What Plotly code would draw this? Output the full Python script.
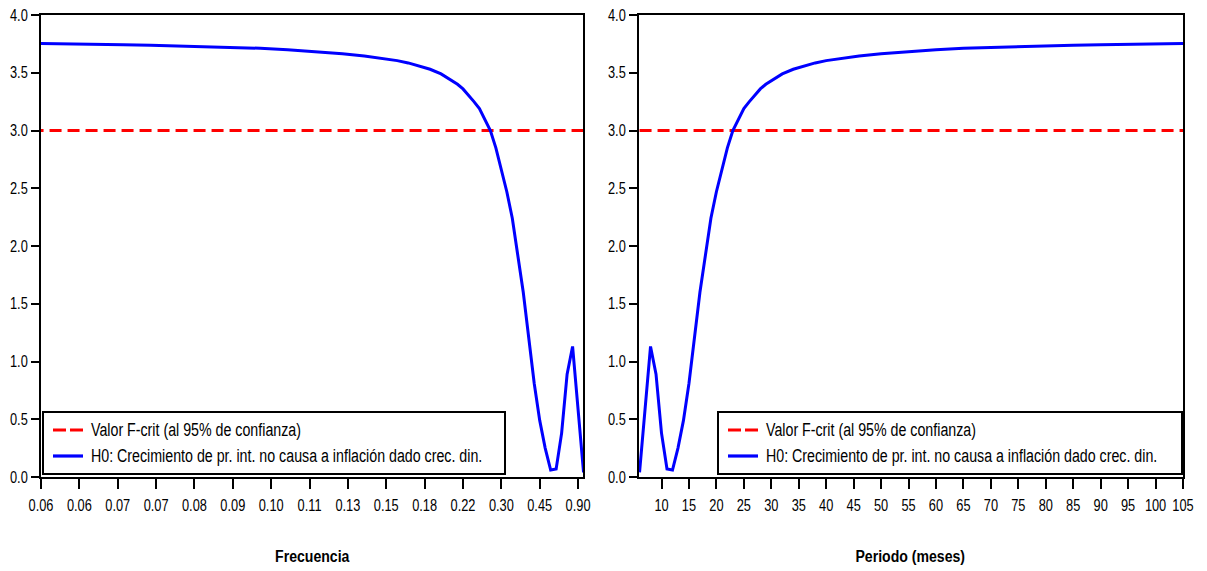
import plotly.graph_objects as go

# Period (months) and F statistic of the frequency-domain causality test
periodo = [6, 7, 8, 9, 10, 11, 12, 13, 14, 15, 16, 17, 18, 19, 20, 21, 22,
           23, 24, 25, 26, 27, 28, 29, 30, 32, 34, 36, 38, 40, 43, 46, 50,
           55, 60, 65, 70, 75, 80, 85, 90, 95, 100, 105]
estadistico_f = [0.04, 0.60, 1.13, 0.89, 0.38, 0.07, 0.06, 0.25, 0.49, 0.81,
                 1.22, 1.60, 1.92, 2.24, 2.47, 2.67, 2.85, 3.00, 3.10, 3.19,
                 3.25, 3.31, 3.36, 3.40, 3.43, 3.49, 3.53, 3.56, 3.585, 3.605,
                 3.625, 3.645, 3.665, 3.685, 3.700, 3.712, 3.720, 3.727, 3.733,
                 3.738, 3.743, 3.747, 3.750, 3.753]
f_critico = [3.0] * len(periodo)

# Frequency axis ticks (2*pi / period) placed at every 7th month
frec_tick_periodo = [105, 98, 91, 84, 77, 70, 63, 56, 49, 42, 35, 28, 21, 14, 7]
frec_tick_texto = ["0.06", "0.06", "0.07", "0.07", "0.08", "0.09", "0.10", "0.11",
                   "0.13", "0.15", "0.18", "0.22", "0.30", "0.45", "0.90"]
periodo_ticks = list(range(10, 106, 5))
y_ticks = [0.0, 0.5, 1.0, 1.5, 2.0, 2.5, 3.0, 3.5, 4.0]

nombre_crit = "Valor F-crit (al 95% de confianza)"
nombre_h0 = "H0: Crecimiento de pr. int. no causa a inflación dado crec. din."

FONT = "Liberation Sans, Arial, sans-serif"
W, H = 1207, 571
ROJO, AZUL = "#FF0000", "#0000FF"
DASH_CRIT = "12px,6px"

fig = go.Figure()
for xa, ya in (("x", "y"), ("x2", "y2")):
    fig.add_trace(go.Scatter(
        x=periodo, y=f_critico, xaxis=xa, yaxis=ya, mode="lines",
        name=nombre_crit, showlegend=False,
        line=dict(color=ROJO, width=3.2, dash=DASH_CRIT)))
    fig.add_trace(go.Scatter(
        x=periodo, y=estadistico_f, xaxis=xa, yaxis=ya, mode="lines",
        name=nombre_h0, showlegend=False,
        line=dict(color=AZUL, width=3)))


def ejes(largo):
    return dict(showline=True, mirror=True, linecolor="black", linewidth=2,
                ticks="outside", ticklen=largo, tickwidth=1.5, tickcolor="black",
                showgrid=False, zeroline=False, automargin=False, tickangle=0,
                tickfont=dict(family=FONT, size=16, color="black"))


def px_x(v):
    return v / W


def px_y(v):
    return 1 - v / H


# Legend box inside each panel: frame, two line samples and their labels
shapes, annotations = [], []
for izq, der in ((43, 505), (718, 1182)):
    shapes.append(dict(type="rect", xref="paper", yref="paper", layer="above",
                       x0=px_x(izq), x1=px_x(der), y0=px_y(474), y1=px_y(412),
                       line=dict(color="black", width=2), fillcolor="white"))
    for fila, (nombre, color, dash) in zip(
            (430, 456), ((nombre_crit, ROJO, "13px,4px"), (nombre_h0, AZUL, "solid"))):
        shapes.append(dict(type="line", xref="paper", yref="paper", layer="above",
                           x0=px_x(izq + 10), x1=px_x(izq + 40),
                           y0=px_y(fila), y1=px_y(fila),
                           line=dict(color=color, width=3.2, dash=dash)))
        annotations.append(dict(text=nombre, x=px_x(izq + 46), y=px_y(fila),
                                xref="paper", yref="paper", xanchor="left",
                                yanchor="middle", align="left", showarrow=False,
                                font=dict(family=FONT, size=18, color="black")))

annotations += [
    dict(text="<b>Frecuencia</b>", x=px_x(312), y=px_y(556),
         xref="paper", yref="paper", xanchor="center", yanchor="middle",
         showarrow=False, font=dict(family=FONT, size=16, color="black")),
    dict(text="<b>Periodo (meses)</b>", x=px_x(910), y=px_y(556),
         xref="paper", yref="paper", xanchor="center", yanchor="middle",
         showarrow=False, font=dict(family=FONT, size=16, color="black")),
]

ydom = [px_y(477), px_y(15)]
fig.update_layout(
    width=W, height=H,
    margin=dict(l=0, r=0, t=0, b=0),
    paper_bgcolor="white", plot_bgcolor="white",
    showlegend=False,
    xaxis=dict(domain=[px_x(41), px_x(583)], range=[105, 6.1],
               tickmode="array", tickvals=frec_tick_periodo,
               ticktext=frec_tick_texto, anchor="y", ticklabelstandoff=3,
               **ejes(10)),
    yaxis=dict(domain=ydom, range=[0, 4], tickmode="array", tickvals=y_ticks,
               tickformat=".1f", anchor="x", **ejes(8)),
    xaxis2=dict(domain=[px_x(639), px_x(1183)], range=[5.9, 105],
                tickmode="array", tickvals=periodo_ticks, anchor="y2",
                ticklabelstandoff=3, **ejes(10)),
    yaxis2=dict(domain=ydom, range=[0, 4], tickmode="array", tickvals=y_ticks,
                tickformat=".1f", anchor="x2", **ejes(8)),
    shapes=shapes,
    annotations=annotations,
)

# Narrow typeface: compress tick labels and annotations horizontally
# (bold axis titles a little less than the legend labels).
condensar = """
var gd = document.getElementById('{plot_id}');
function condense() {
  var nodes = gd.querySelectorAll(
    '.xtick text, .x2tick text, .ytick text, .y2tick text, .annotation-text');
  Array.prototype.forEach.call(nodes, function (t) {
    if (t.getAttribute('data-sq')) return;
    var s = 0.80;
    if (t.classList.contains('annotation-text')) {
      var bold = (t.innerHTML || '').indexOf('bold') >= 0;
      s = bold ? 0.88 : 0.79;
    }
    var w = t.getComputedTextLength();
    t.setAttribute('textLength', (w * s).toFixed(2));
    t.setAttribute('lengthAdjust', 'spacingAndGlyphs');
    t.setAttribute('data-sq', '1');
  });
}
condense();
gd.on('plotly_afterplot', condense);
"""

fig.write_html("out.html", post_script=condensar)
